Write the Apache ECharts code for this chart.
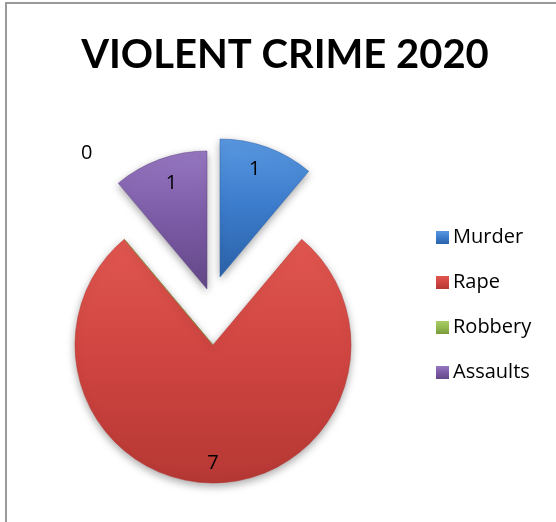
<!DOCTYPE html>
<html>
<head>
<meta charset="utf-8">
<script src="https://cdn.jsdelivr.net/npm/echarts@6/dist/echarts.min.js"></script>
<style>
  html, body { margin: 0; padding: 0; background: #fff; }
  #frame { position: absolute; left: 5px; top: 2px; width: 600px; height: 600px; border: 2px solid #9a9a9a; box-sizing: border-box; }
  #chart { position: absolute; left: 0; top: 0; width: 556px; height: 522px; }
</style>
</head>
<body>
<div id="frame"></div>
<div id="chart"></div>
<script>
// data
const categories = ["Murder", "Rape", "Robbery", "Assaults"];
const counts = [1, 7, 0, 1];

// look
const baseColors = ["#3b7bcb", "#cf4440", "#93b94f", "#7c5ba6"];
const topColors = ["#5897e0", "#e0564f", "#a8cc63", "#9576c0"];
const botColors = ["#2c62a8", "#b53834", "#78993c", "#634787"];
// each slice is pulled out on its own, like excel's exploded pie
const sliceCenters = [[220, 277], [213, 345], [213, 345], [207, 289]];
// label nudges (labels sit near the rim, not at half radius)
const labelShift = [[10, -40], [0, 46], [-80, -137], [-11, -38]];

const chart = echarts.init(document.getElementById("chart"));

function grad(i) {
  return new echarts.graphic.LinearGradient(0, 0, 0, 1, [
    { offset: 0, color: topColors[i] },
    { offset: 0.5, color: baseColors[i] },
    { offset: 1, color: botColors[i] }
  ]);
}

// one pie per slice so every slice can have its own offset
const series = categories.map((cat, i) => ({
  type: "pie",
  name: cat,
  center: sliceCenters[i],
  radius: 138,
  startAngle: 90,
  clockwise: true,
  avoidLabelOverlap: false,
  silent: true,
  label: {
    show: false,
    position: "inside",
    color: "#000",
    fontFamily: "Open Sans",
    fontSize: 20,
    formatter: "{c}"
  },
  labelLine: { show: false },
  labelLayout: p => ({ dx: labelShift[p.dataIndex][0], dy: labelShift[p.dataIndex][1] }),
  data: counts.map((v, j) => ({
    value: v,
    name: categories[j],
    label: { show: j === i },
    itemStyle: j === i
      ? {
          color: grad(j),
          borderColor: botColors[j],
          borderWidth: 0.5,
          shadowBlur: 8,
          shadowOffsetY: 3,
          shadowColor: "rgba(0,0,0,0.35)"
        }
      : { color: "rgba(0,0,0,0)", borderWidth: 0, shadowBlur: 0 }
  }))
}));

chart.setOption({
  animation: false,
  title: {
    text: "VIOLENT CRIME 2020",
    left: 280,
    textAlign: "center",
    top: 30,
    textStyle: { fontFamily: "Lato", fontWeight: "bold", fontSize: 40, color: "#000" }
  },
  legend: {
    orient: "vertical",
    left: 431,
    top: 222,
    icon: "rect",
    itemWidth: 13,
    itemHeight: 13,
    itemGap: 24,
    selectedMode: false,
    textStyle: { fontFamily: "Open Sans", fontSize: 20, lineHeight: 21, color: "#000", padding: [0, 0, 0, -1] },
    data: categories.map((c, i) => ({ name: c, itemStyle: { color: grad(i), shadowBlur: 0 } }))
  },
  series: series
});
</script>
</body>
</html>
